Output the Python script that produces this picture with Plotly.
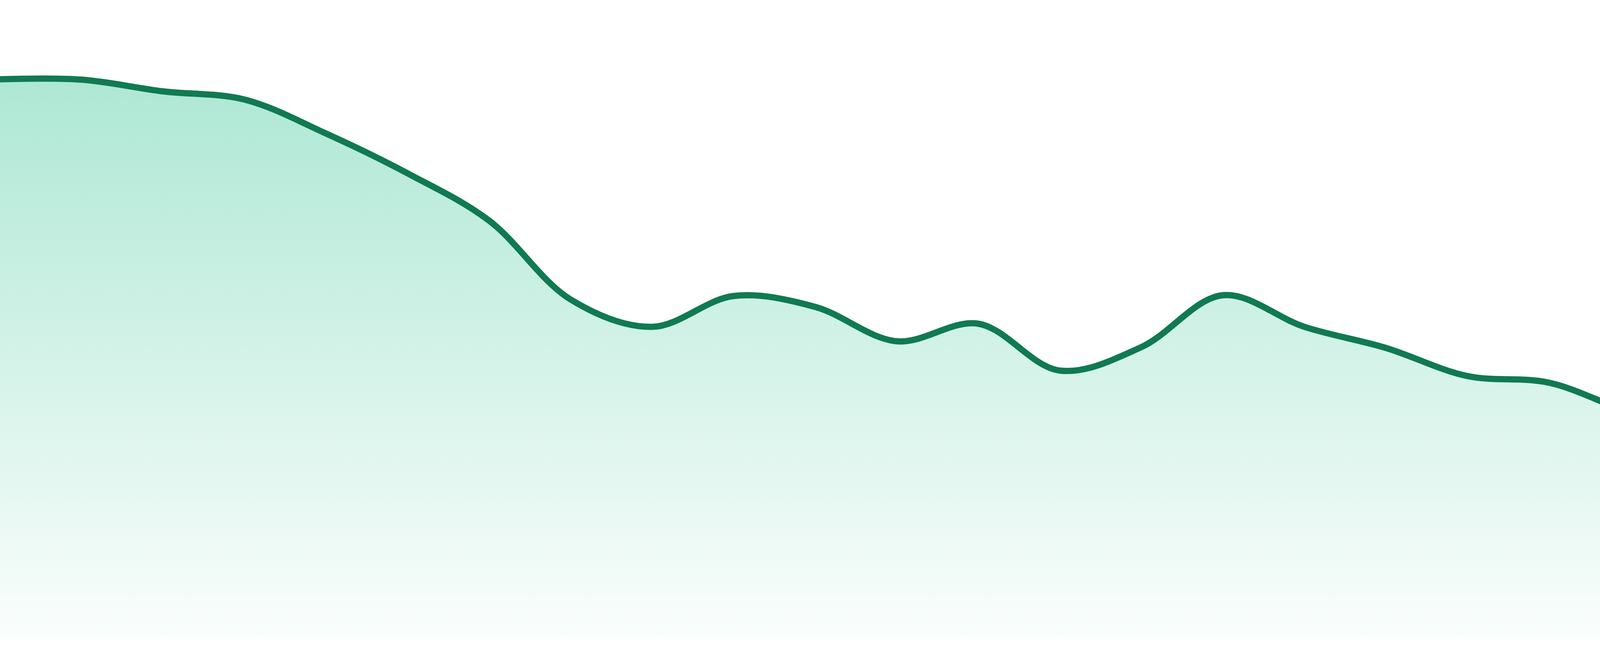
import plotly.graph_objects as go

# evenly spaced samples along the x axis (24 points)
x_idx = list(range(24))
values = [1429, 1428, 1398, 1377, 1290, 1188, 1067, 865, 795, 874, 846, 758,
          803, 683, 743, 876, 795, 741, 669, 652, 577, 531, 489, 382]

LINE_COLOR = "#107a50"
W, H = 4800, 1680
BOTTOM = 48


def make_fig():
    fig = go.Figure()
    fig.add_trace(go.Scatter(
        x=x_idx, y=values, mode="lines",
        line=dict(color=LINE_COLOR, width=16, shape="spline", smoothing=1),
        fill="tozeroy",
        fillgradient=dict(type="vertical", start=0, stop=max(values),
                          colorscale=[[0, "rgba(16,185,129,0.02)"],
                                      [1, "rgba(16,185,129,0.34)"]]),
        hoverinfo="skip", showlegend=False))
    fig.update_layout(
        width=W, height=H,
        margin=dict(l=0, r=0, t=0, b=BOTTOM, pad=0),
        paper_bgcolor="white", plot_bgcolor="white",
        xaxis=dict(visible=False, range=[0, len(x_idx) - 1], fixedrange=True),
        yaxis=dict(visible=False, range=[0, H - BOTTOM], fixedrange=True),
        showlegend=False)
    return fig


fig = make_fig()
# drop the default page margin so the chart sits flush in the window
fig.write_html("out.html", config=dict(displayModeBar=False),
               post_script="document.body.style.margin='0px';")
